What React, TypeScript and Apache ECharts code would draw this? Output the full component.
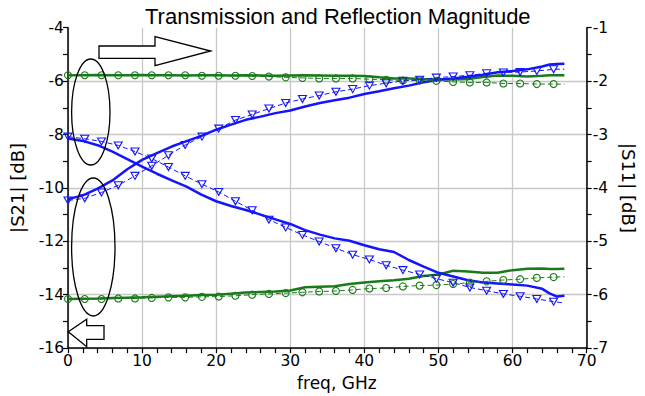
import React, { useEffect, useRef } from "react";
import * as echarts from "echarts";

// Frequencies (GHz)
const freqSolid = [0, 2, 4, 6, 8, 10, 12, 14, 16, 18, 20, 22, 24, 26, 28, 30, 32, 34, 36, 38, 40, 42, 44, 46, 48, 50, 52, 54, 56, 58, 60, 62, 64, 65, 66, 67];
const freqMarked = [0, 2.26, 4.52, 6.78, 9.04, 11.3, 13.56, 15.82, 18.08, 20.34, 22.6, 24.86, 27.12, 29.38, 31.64, 33.9, 36.16, 38.42, 40.68, 42.94, 45.2, 47.46, 49.72, 51.98, 54.24, 56.5, 58.76, 61.02, 63.28, 65.54, 67];

// |S21| [dB] (left axis)
const s21BlueSolid = [-10.42, -10.28, -10.03, -9.72, -9.3, -8.95, -8.7, -8.45, -8.25, -8.05, -7.82, -7.63, -7.45, -7.33, -7.2, -7.1, -6.95, -6.82, -6.72, -6.62, -6.48, -6.38, -6.27, -6.17, -6.04, -5.95, -5.9, -5.84, -5.76, -5.67, -5.62, -5.56, -5.45, -5.38, -5.36, -5.35];
const s21GreenSolid = [-14.16, -14.15, -14.14, -14.12, -14.11, -14.1, -14.08, -14.06, -14.04, -14.01, -14.0, -13.96, -13.92, -13.9, -13.88, -13.84, -13.72, -13.7, -13.68, -13.6, -13.54, -13.5, -13.46, -13.4, -13.3, -13.24, -13.1, -13.13, -13.18, -13.18, -13.08, -13.03, -13.02, -13.04, -13.04, -13.03];
const s21BlueDashed = [-10.47, -10.39, -10.17, -9.9, -9.55, -9.17, -8.78, -8.39, -8.08, -7.78, -7.46, -7.25, -7.03, -6.82, -6.67, -6.54, -6.4, -6.3, -6.17, -6.08, -5.99, -5.95, -5.87, -5.83, -5.78, -5.71, -5.68, -5.66, -5.62, -5.56, -5.55];
const s21GreenDashed = [-14.16, -14.16, -14.16, -14.14, -14.14, -14.12, -14.1, -14.1, -14.08, -14.07, -14.04, -14.0, -13.97, -13.94, -13.91, -13.88, -13.86, -13.82, -13.77, -13.75, -13.69, -13.66, -13.64, -13.6, -13.55, -13.5, -13.45, -13.42, -13.37, -13.34, -13.33];

// |S11| [dB] (right axis)
const s11BlueSolid = [-3.075, -3.12, -3.2, -3.32, -3.46, -3.6, -3.735, -3.86, -3.975, -4.125, -4.25, -4.34, -4.415, -4.5, -4.59, -4.675, -4.79, -4.875, -4.945, -4.99, -5.075, -5.15, -5.2, -5.35, -5.475, -5.59, -5.66, -5.73, -5.77, -5.79, -5.81, -5.83, -5.89, -5.975, -6.035, -6.02];
const s11GreenSolid = [-1.89, -1.89, -1.885, -1.89, -1.89, -1.885, -1.89, -1.89, -1.895, -1.89, -1.89, -1.895, -1.89, -1.895, -1.9, -1.895, -1.89, -1.895, -1.9, -1.9, -1.905, -1.93, -1.95, -1.95, -1.96, -1.965, -1.97, -1.96, -1.925, -1.895, -1.9, -1.915, -1.9, -1.89, -1.89, -1.89];
const s11BlueDashed = [-3.04, -3.08, -3.13, -3.205, -3.32, -3.45, -3.61, -3.775, -3.93, -4.075, -4.25, -4.42, -4.595, -4.74, -4.88, -5.005, -5.13, -5.25, -5.34, -5.45, -5.54, -5.62, -5.7, -5.775, -5.865, -5.925, -5.985, -6.03, -6.08, -6.13, -6.155];
const s11GreenDashed = [-1.89, -1.89, -1.89, -1.89, -1.89, -1.89, -1.89, -1.89, -1.9, -1.9, -1.9, -1.905, -1.915, -1.93, -1.94, -1.95, -1.95, -1.95, -1.965, -1.975, -1.99, -1.985, -1.995, -2.015, -2.025, -2.025, -2.045, -2.045, -2.055, -2.055, -2.06];

const BLUE = "#1414ff";
const GREEN = "#1a7a1a";
const TICK_FONT = "DejaVu Sans";

function solidSeries(vals: number[], color: string, yAxisIndex: number) {
  return {
    type: "line",
    yAxisIndex,
    data: freqSolid.map((f, i) => [f, vals[i]]),
    showSymbol: false,
    symbol: "none",
    lineStyle: { color, width: 2.5 },
    itemStyle: { color },
    z: 2,
  };
}

function dashedSeries(vals: number[], color: string, yAxisIndex: number, symbol: string) {
  const last = freqMarked.length - 1;
  return {
    type: "line",
    yAxisIndex,
    data: freqMarked.map((f, i) =>
      i === last ? { value: [f, vals[i]], symbol: "none" } : [f, vals[i]]
    ),
    showSymbol: true,
    showAllSymbol: true,
    symbol,
    symbolSize: symbol === "circle" ? 7 : [8, 7],
    symbolRotate: symbol === "triangle" ? 180 : 0,
    lineStyle: { color, width: 1, type: [5, 3] },
    itemStyle: { color: "rgba(255,255,255,0)", borderColor: color, borderWidth: 1.1 },
    z: 3,
  };
}

export default function App() {
  const ref = useRef<HTMLDivElement>(null);
  useEffect(() => {
    document.body.style.margin = "0";
    if (!ref.current) return;
    const chart = echarts.init(ref.current, undefined, { renderer: "svg" });
    const axisLine = { show: true, lineStyle: { color: "#000", width: 1.5 } };
    const tick = { show: true, inside: false, length: 5, lineStyle: { color: "#000", width: 1.2 } };
    const minorTick = { show: true, length: 5, lineStyle: { color: "#000", width: 1.2 } };
    const label = { color: "#000", fontFamily: TICK_FONT, fontSize: 15.5 };
    chart.setOption({
      animation: false,
      backgroundColor: "#fff",
      title: {
        text: "Transmission and Reflection Magnitude",
        left: 140,
        top: 0,
        textStyle: { fontFamily: "Liberation Sans", fontSize: 22, fontWeight: "normal", color: "#000" },
      },
      grid: { left: 65.7, right: 45.7, top: 27.7, bottom: 42.7 },
      xAxis: {
        type: "value",
        min: 0,
        max: 70,
        interval: 10,
        name: "freq, GHz",
        nameLocation: "middle",
        nameGap: 20,
        nameTextStyle: { color: "#000", fontFamily: TICK_FONT, fontSize: 17, padding: [0, 0, 0, 19] },
        axisLine,
        axisTick: tick,
        minorTick: { ...minorTick, splitNumber: 5 },
        axisLabel: { ...label, margin: 5 },
        splitLine: { show: true, lineStyle: { color: "#c8c8c8", width: 1.3 } },
      },
      yAxis: [
        {
          type: "value",
          position: "left",
          min: -16,
          max: -4,
          interval: 2,
          name: "|S21| [dB]",
          nameLocation: "middle",
          nameGap: 42,
          nameRotate: 90,
          nameTextStyle: { color: "#000", fontFamily: TICK_FONT, fontSize: 18 },
          axisLine,
          axisTick: tick,
          minorTick: { ...minorTick, splitNumber: 2 },
          axisLabel: { ...label, margin: 4 },
          splitLine: {
            show: true,
            showMaxLine: false,
            lineStyle: { color: ["#c8c8c8", "#c8c8c8", "#c8c8c8", "#c8c8c8", "#c8c8c8", "#c8c8c8", "rgba(0,0,0,0)"], width: 1.3 },
          },
        },
        {
          type: "value",
          position: "right",
          min: -7,
          max: -1,
          interval: 1,
          name: "|S11| [dB]",
          nameLocation: "middle",
          nameGap: 24,
          nameRotate: -90,
          nameTextStyle: { color: "#000", fontFamily: TICK_FONT, fontSize: 18 },
          axisLine,
          axisTick: tick,
          minorTick: { ...minorTick, splitNumber: 2 },
          axisLabel: { ...label, margin: 6 },
          splitLine: { show: false },
        },
      ],
      series: [
        solidSeries(s11GreenSolid, GREEN, 1),
        solidSeries(s21GreenSolid, GREEN, 0),
        solidSeries(s11BlueSolid, BLUE, 1),
        solidSeries(s21BlueSolid, BLUE, 0),
        dashedSeries(s11GreenDashed, GREEN, 1, "circle"),
        dashedSeries(s21GreenDashed, GREEN, 0, "circle"),
        dashedSeries(s11BlueDashed, BLUE, 1, "triangle"),
        dashedSeries(s21BlueDashed, BLUE, 0, "triangle"),
      ],
      graphic: [
        {
          type: "ellipse",
          shape: { cx: 90.8, cy: 112, rx: 19.2, ry: 53 },
          style: { fill: "none", stroke: "#000", lineWidth: 1.3 },
          z: 10,
        },
        {
          type: "ellipse",
          shape: { cx: 93.3, cy: 247, rx: 21.7, ry: 69 },
          style: { fill: "none", stroke: "#000", lineWidth: 1.3 },
          z: 10,
        },
        {
          type: "polygon",
          shape: { points: [[99, 46], [155, 46], [155, 36.7], [210.7, 51], [155, 65.7], [155, 58.3], [99, 58.3]] },
          style: { fill: "#fff", stroke: "#000", lineWidth: 1.3 },
          z: 10,
        },
        {
          type: "polygon",
          shape: { points: [[68.3, 331.7], [86.7, 319.3], [86.7, 325.7], [104, 325.7], [104, 339.3], [86.7, 339.3], [86.7, 346.7]] },
          style: { fill: "#fff", stroke: "#000", lineWidth: 1.3 },
          z: 10,
        },
      ],
    });
    return () => chart.dispose();
  }, []);
  return <div ref={ref} style={{ width: 645, height: 396 }} />;
}
